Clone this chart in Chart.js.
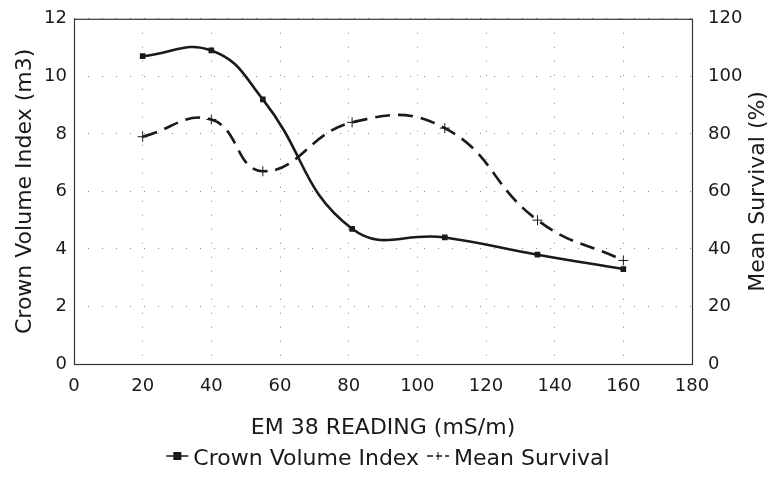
<!DOCTYPE html>
<html>
<head>
<meta charset="utf-8">
<script src="https://cdn.jsdelivr.net/npm/chart.js@4"></script>
<style>
  html, body { margin: 0; padding: 0; background: #fff; }
  #wrap { width: 770px; height: 478px; }
</style>
</head>
<body>
<div id="wrap"><canvas id="chart" width="770" height="478"></canvas></div>
<script>
// values
const emReading = [20, 40, 55, 81, 108, 135, 160];
const crownVolume = [10.7, 10.9, 9.2, 4.7, 4.4, 3.8, 3.3];   // m3, left axis
const meanSurvival = [79, 85, 67, 84, 82, 50, 36];          // %, right axis
const xTicks = [0, 20, 40, 60, 80, 100, 120, 140, 160, 180];

const ink = "#1a1a1a";
const fontFam = "'DejaVu Sans', sans-serif";

// pair x with y for the linear x scale
function toPoints(ys) {
  return emReading.map(function (x, i) { return { x: x, y: ys[i] }; });
}

// plot frame, right axis title (reads bottom-to-top like the left one) and the legend
const framePlugin = {
  id: "frame",
  afterDraw: function (chart) {
    const ctx = chart.ctx;
    const a = chart.chartArea;
    ctx.save();
    ctx.setLineDash([]); // chart may leave the grid dash on the context
    ctx.strokeStyle = "#333";
    ctx.lineWidth = 1.2;
    ctx.strokeRect(a.left + 0.5, a.top + 0.5, a.right - a.left, a.bottom - a.top);

    // right title
    ctx.fillStyle = ink;
    ctx.font = "22px " + fontFam;
    ctx.textAlign = "center";
    ctx.textBaseline = "middle";
    ctx.translate(758, (a.top + a.bottom) / 2);
    ctx.rotate(-Math.PI / 2);
    ctx.fillText("Mean Survival (%)", 0, 0);
    ctx.setTransform(1, 0, 0, 1, 0, 0);

    // legend
    ctx.font = "22px " + fontFam;
    ctx.textAlign = "left";
    const y = 459;
    const items = [
      { text: "Crown Volume Index", dash: [], marker: "square" },
      { text: "Mean Survival", dash: [6, 3], marker: "cross" }
    ];
    const sample = 22, gap = 5, between = 8;
    let total = 0;
    items.forEach(function (it) { total += sample + gap + ctx.measureText(it.text).width; });
    total += between;
    let x = 388 - total / 2;
    items.forEach(function (it) {
      ctx.strokeStyle = ink;
      ctx.lineWidth = 1.5;
      ctx.setLineDash(it.dash);
      ctx.beginPath();
      ctx.moveTo(x, y - 3);
      ctx.lineTo(x + sample, y - 3);
      ctx.stroke();
      ctx.setLineDash([]);
      if (it.marker == "square") {
        ctx.fillStyle = ink;
        ctx.fillRect(x + sample / 2 - 4, y - 7, 8, 8);
      } else {
        ctx.lineWidth = 1;
        ctx.beginPath();
        ctx.moveTo(x + sample / 2, y - 7);
        ctx.lineTo(x + sample / 2, y + 1);
        ctx.stroke();
      }
      ctx.fillStyle = ink;
      ctx.fillText(it.text, x + sample + gap, y);
      x += sample + gap + ctx.measureText(it.text).width + between;
    });
    ctx.restore();
  }
};

const gridDots = { color: "#888", lineWidth: 1, drawTicks: false };

new Chart("chart", {
  type: "line",
  data: {
    datasets: [
      {
        label: "Crown Volume Index",
        data: toPoints(crownVolume),
        yAxisID: "y",
        borderColor: ink,
        backgroundColor: ink,
        borderWidth: 2.6,
        tension: 0.45,
        pointStyle: "rect",
        pointRadius: 4,
        pointBorderWidth: 0,
        fill: false
      },
      {
        label: "Mean Survival",
        data: toPoints(meanSurvival),
        yAxisID: "y1",
        borderColor: ink,
        backgroundColor: ink,
        borderWidth: 2.6,
        borderDash: [15, 8],
        tension: 0.45,
        pointStyle: "cross",
        pointRadius: 5,
        pointBorderWidth: 1,
        fill: false
      }
    ]
  },
  options: {
    responsive: false,
    animation: false,
    layout: { padding: { top: 16, bottom: 34, left: 0, right: 0 } },
    plugins: {
      legend: { display: false },
      tooltip: { enabled: false }
    },
    scales: {
      x: {
        type: "linear",
        min: 0,
        max: 180,
        afterBuildTicks: function (s) { s.ticks = xTicks.map(function (v) { return { value: v }; }); },
        grid: gridDots,
        border: { display: false, dash: [1, 13] },
        ticks: { color: ink, font: { size: 18, family: fontFam }, padding: 12, maxRotation: 0 },
        title: { display: true, text: "EM 38 READING (mS/m)", color: ink, font: { size: 22, family: fontFam }, padding: { top: 4, bottom: 3 } },
        afterFit: function (s) { s.height = 80; }
      },
      y: {
        position: "left",
        min: 0,
        max: 12,
        ticks: { stepSize: 2, color: ink, font: { size: 18, family: fontFam }, padding: 7 },
        grid: gridDots,
        border: { display: false, dash: [1, 13] },
        title: { display: true, text: "Crown Volume Index (m3)", color: ink, font: { size: 22, family: fontFam }, padding: { top: 12, bottom: 0 } },
        afterFit: function (s) { s.width = 74; }
      },
      y1: {
        position: "right",
        min: 0,
        max: 120,
        ticks: { stepSize: 20, color: ink, font: { size: 18, family: fontFam }, padding: 8 },
        grid: { display: false },
        border: { display: false },
        title: { display: false },
        afterFit: function (s) { s.width = 78; }
      }
    }
  },
  plugins: [framePlugin]
});
</script>
</body>
</html>
